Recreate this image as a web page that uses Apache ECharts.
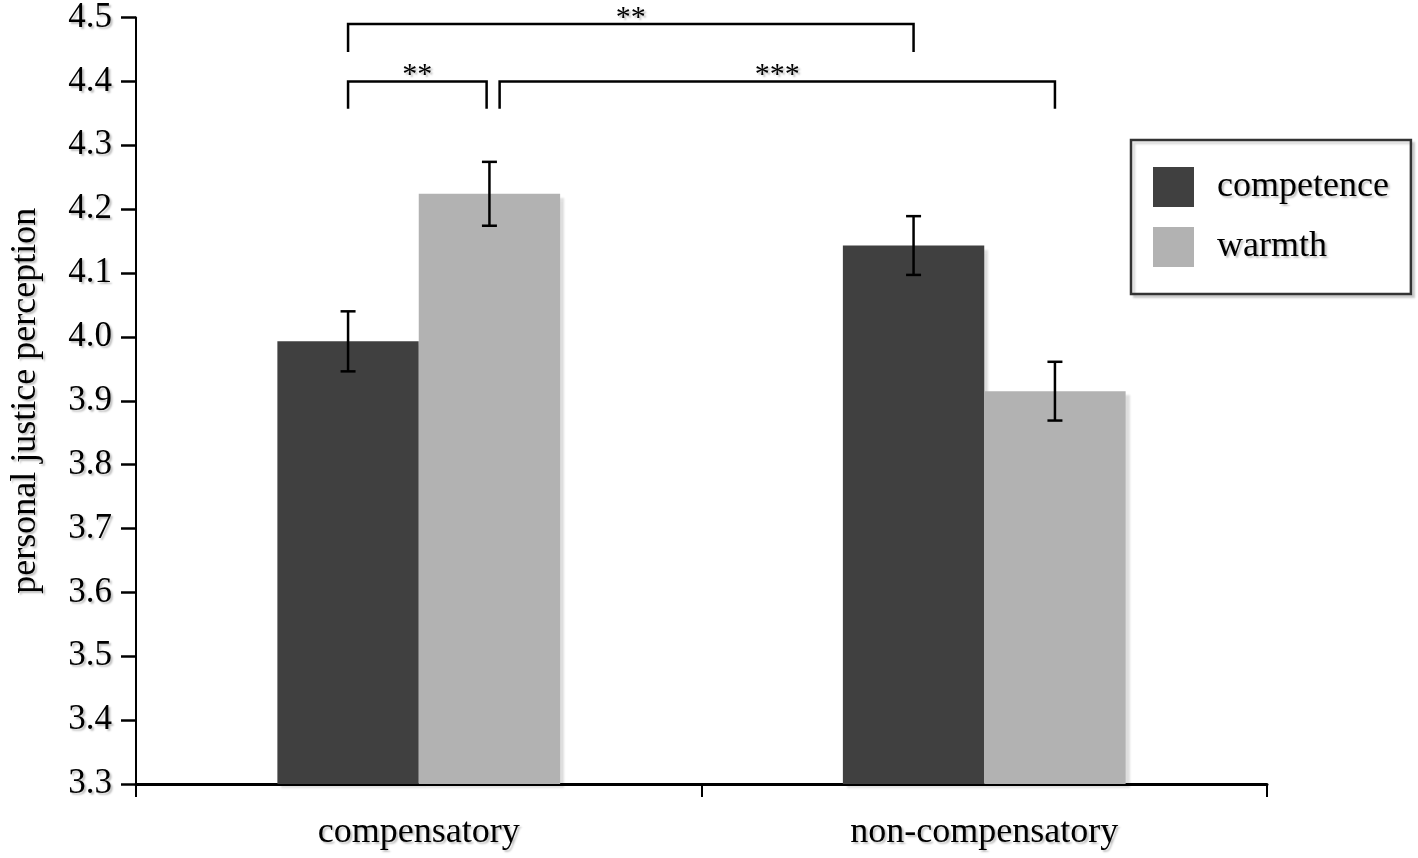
<!DOCTYPE html>
<html>
<head>
<meta charset="utf-8">
<script src="https://cdn.jsdelivr.net/npm/echarts@6/dist/echarts.min.js"></script>
<style>
  html, body { margin: 0; padding: 0; background: #fff; }
  #chart { width: 1418px; height: 858px; }
</style>
</head>
<body>
<div id="chart"></div>
<script>
// categories and group means
const categories = ['compensatory', 'non-compensatory'];
const competence = [3.993, 4.143];
const warmth = [4.224, 3.915];
// standard errors (half length of each error bar)
const competenceErr = [0.047, 0.046];
const warmthErr = [0.05, 0.046];
const yTicks = { min: 3.3, max: 4.5, step: 0.1 };

// significance brackets: ends given as [category index, offset in band widths]
const bracketFrom = [[0, -0.125], [0, -0.125], [0, 0.143]];
const bracketTo = [[1, -0.125], [0, 0.12], [1, 0.125]];
const bracketTop = [4.49, 4.40, 4.40];
const bracketEnd = [4.446, 4.357, 4.357];
const bracketLabels = ['**', '**', '***'];

const SERIF = '"Liberation Serif", "Times New Roman", serif';
const DARK = '#404040';
const LIGHT = '#b2b2b2';
const shadowText = {
  textShadowColor: 'rgba(0,0,0,0.25)',
  textShadowOffsetX: 2,
  textShadowOffsetY: 2,
  textShadowBlur: 2,
};

const chart = echarts.init(document.getElementById('chart'));

function errorBars(offset) {
  return function (params, api) {
    const band = api.size([1, 0])[0];
    const lo = api.coord([api.value(0), api.value(1)]);
    const hi = api.coord([api.value(0), api.value(2)]);
    const x = lo[0] + offset * band;
    const half = 7.5;
    const style = { stroke: '#000', lineWidth: 2.5 };
    return {
      type: 'group',
      children: [
        { type: 'line', shape: { x1: x, y1: hi[1], x2: x, y2: lo[1] }, style: style },
        { type: 'line', shape: { x1: x - half, y1: hi[1], x2: x + half, y2: hi[1] }, style: style },
        { type: 'line', shape: { x1: x - half, y1: lo[1], x2: x + half, y2: lo[1] }, style: style },
      ],
    };
  };
}

function brackets(params, api) {
  const i = params.dataIndex;
  const band = api.size([1, 0])[0];
  const a = api.coord([bracketFrom[i][0], bracketTop[i]]);
  const b = api.coord([bracketTo[i][0], bracketTop[i]]);
  const yEnd = api.coord([0, bracketEnd[i]])[1];
  const x1 = a[0] + bracketFrom[i][1] * band;
  const x2 = b[0] + bracketTo[i][1] * band;
  const y = a[1];
  return {
    type: 'group',
    children: [
      {
        type: 'polyline',
        shape: { points: [[x1, yEnd], [x1, y], [x2, y], [x2, yEnd]] },
        style: { stroke: '#000', lineWidth: 2.5, fill: null },
      },
      {
        type: 'text',
        x: (x1 + x2) / 2,
        y: y - 6,
        style: Object.assign({
          text: bracketLabels[i],
          font: '30px ' + SERIF,
          fill: '#000',
          align: 'center',
          verticalAlign: 'middle',
        }, shadowText),
      },
    ],
  };
}

const barShadow = {
  shadowColor: 'rgba(0,0,0,0.13)',
  shadowOffsetX: 4,
  shadowOffsetY: 4,
  shadowBlur: 2,
};

const option = {
  backgroundColor: '#fff',
  animation: false,
  grid: { left: 135, right: 151, top: 17, bottom: 74 },
  legend: {
    orient: 'vertical',
    left: 1131,
    top: 140,
    padding: [27, 22],
    itemGap: 20,
    itemWidth: 41,
    itemHeight: 40,
    icon: 'rect',
    borderColor: '#333',
    borderWidth: 2.5,
    backgroundColor: '#fff',
    shadowColor: 'rgba(0,0,0,0.15)',
    shadowOffsetX: 3,
    shadowOffsetY: 3,
    shadowBlur: 2,
    data: ['competence', 'warmth'],
    textStyle: Object.assign({
      fontFamily: SERIF,
      fontSize: 36,
      color: '#000',
      padding: [3, 0, 0, 18],
    }, shadowText),
  },
  xAxis: {
    type: 'category',
    data: categories,
    axisLine: { lineStyle: { color: '#000', width: 3 } },
    axisTick: { show: true, length: 13, lineStyle: { color: '#000', width: 2 } },
    axisLabel: Object.assign({
      fontFamily: SERIF,
      fontSize: 36,
      color: '#000',
      margin: 31,
    }, shadowText),
    splitLine: { show: false },
  },
  yAxis: {
    type: 'value',
    min: yTicks.min,
    max: yTicks.max,
    interval: yTicks.step,
    name: 'personal justice perception',
    nameLocation: 'middle',
    nameGap: 92,
    nameTextStyle: Object.assign({
      fontFamily: SERIF,
      fontSize: 36,
      color: '#000',
    }, shadowText),
    axisLine: { show: true, lineStyle: { color: '#000', width: 2 } },
    axisTick: { show: true, length: 15, lineStyle: { color: '#000', width: 2.5 } },
    axisLabel: Object.assign({
      fontFamily: SERIF,
      fontSize: 35,
      color: '#000',
      margin: 24,
      formatter: (v) => v.toFixed(1),
    }, shadowText),
    splitLine: { show: false },
  },
  series: [
    {
      name: 'competence',
      type: 'bar',
      data: competence,
      barWidth: '25%',
      barGap: '0%',
      itemStyle: Object.assign({ color: DARK }, barShadow),
    },
    {
      name: 'warmth',
      type: 'bar',
      data: warmth,
      barWidth: '25%',
      barGap: '0%',
      itemStyle: Object.assign({ color: LIGHT }, barShadow),
    },
    {
      name: 'competence error',
      type: 'custom',
      renderItem: errorBars(-0.125),
      data: competence.map((v, i) => [i, v - competenceErr[i], v + competenceErr[i]]),
      z: 5,
      silent: true,
    },
    {
      name: 'warmth error',
      type: 'custom',
      renderItem: errorBars(0.125),
      data: warmth.map((v, i) => [i, v - warmthErr[i], v + warmthErr[i]]),
      z: 5,
      silent: true,
    },
    {
      name: 'significance',
      type: 'custom',
      renderItem: brackets,
      data: bracketLabels.map((l, i) => [bracketFrom[i][0], bracketTop[i]]),
      clip: false,
      z: 5,
      silent: true,
    },
  ],
};

chart.setOption(option);
</script>
</body>
</html>
